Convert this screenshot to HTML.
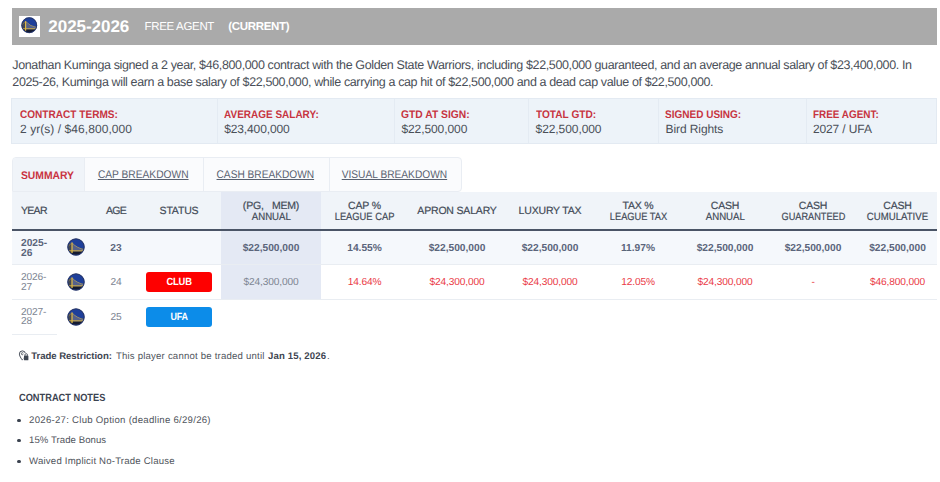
<!DOCTYPE html>
<html lang="en">
<head>
<meta charset="utf-8">
<title>Jonathan Kuminga Contract</title>
<style>
*{box-sizing:border-box;margin:0;padding:0}
html,body{width:940px;height:482px;background:#fff;overflow:hidden}
body{font-family:"Liberation Sans",Arial,sans-serif;color:#4a4f58;position:relative;text-rendering:geometricPrecision}
.hdr{position:absolute;left:12px;top:8px;width:925px;height:36.5px;background:#aaa}
.hdr .logo{position:absolute;left:7px;top:7.7px;width:21.3px;height:21.3px;background:#fff}
.hdr .logo svg{position:absolute;left:2.4px;top:1.4px;width:16.5px;height:16.5px}
.hdr h2{position:absolute;left:36.3px;top:9px;font-size:17px;line-height:20px;font-weight:700;color:#fff;letter-spacing:-0.04px;white-space:nowrap}
.hdr .fa{position:absolute;left:132.5px;top:11.6px;font-size:11.5px;line-height:14px;color:#fff;white-space:nowrap;letter-spacing:-0.33px}
.hdr .cur{position:absolute;left:216.2px;top:11.6px;font-size:11.5px;line-height:14px;color:#fff;font-weight:700;white-space:nowrap;letter-spacing:-0.3px}
.desc{position:absolute;left:12.3px;top:56.7px;width:920px;font-size:12.5px;line-height:17.5px;color:#4a4f58;white-space:nowrap;letter-spacing:-.373px}
.terms{position:absolute;left:11px;top:98px;width:926px;height:46px;background:#edf3f9;border:1px solid #e3eaf2}
.terms .c{position:absolute;top:0;height:44px;border-left:1px solid #e4ebf3}
.terms .c:first-child{border-left:0}
.terms .c:first-child .l,.terms .c:first-child .v{left:8px}
.terms .l{position:absolute;left:6.4px;top:9.5px;font-size:11px;line-height:13px;font-weight:700;color:#c7343f;white-space:nowrap;transform-origin:0 50%}
.terms .v{position:absolute;left:6.4px;top:23.1px;font-size:12px;line-height:15px;color:#4a4f58;white-space:nowrap;letter-spacing:-.1px}
.tabs{position:absolute;left:11.6px;top:157.2px;height:34.7px;width:450.6px;border:1px solid #e9edf3;border-radius:4px 4px 4px 0;background:#fafbfd;overflow:hidden}
.tabs .t{position:absolute;top:0;height:33.7px;font-size:11.1px;line-height:34.6px;color:#596170;white-space:nowrap;text-align:center;border-left:1px solid #e9edf3}
.tabs .t span{display:inline-block;text-decoration:underline;text-decoration-thickness:.9px;text-underline-offset:1.2px}
.tabs .t.on{background:#f0f4f9;color:#c9323f;font-weight:700;border-left:0;left:-1px;top:-1px;height:37px;line-height:39px}
.tabs .t.on span{text-decoration:none}
table{position:absolute;left:12px;top:191.9px;width:925px;border-collapse:collapse;table-layout:fixed}
th{height:38.4px;background:#f0f4f9;font-size:10.5px;letter-spacing:-.18px;line-height:11.3px;font-weight:400;color:#434b58;text-align:center;vertical-align:middle;border-bottom:2px solid #4a5466;-webkit-text-stroke:.2px #434b58;padding-top:3.4px}
th small{font-size:10.5px;display:inline-block;letter-spacing:0}
th.s1{padding-top:2.6px}
th.sh{background:#e4e9f4}
td{height:35px;font-size:10.2px;line-height:9.6px;text-align:center;vertical-align:middle;border-bottom:1px solid #e9edf2;color:#7d8592;padding-top:1px}
tr.r1 td{background:#f5f8fc;font-weight:700;color:#5b657b;height:34.2px;padding-top:2.8px}
tr.r2 td,tr.r3 td{height:34.8px;padding-top:1.6px}
tr.r2 td,tr.r3 td{letter-spacing:-.16px}
tr.r2 td.red{color:#ea3a46}
tr.r1 .tl{top:-1.9px}
tr.r2 .tl{top:-1px}
tr.r3 .tl{top:-.4px}
tr.r3 td{border-bottom:0}
tr.r3 td.y{border-bottom:1px solid #e9edf2}
td.sh{background:#e4e9f4 !important}
td.y,th.y{text-align:left;padding-left:9px}
th.y{letter-spacing:-.7px}
.btn{display:inline-block;width:65.5px;height:20px;line-height:22.8px;border-radius:3px;overflow:hidden;color:#fff;font-weight:700;font-size:10.4px;position:relative;left:0;top:-.8px;vertical-align:middle}
.btn span{display:inline-block;transform:scaleX(.9)}
.club{background:#fe0000}
.ufa{background:#0c8ce9}
.tl{display:inline-block;width:18px;height:18px;vertical-align:middle;position:relative;top:-1.3px}
.restr{position:absolute;left:0;top:349.7px;width:400px;height:13px;font-size:9.6px;line-height:13px;color:#4f545c;white-space:nowrap}
.restr span,.restr b{position:absolute;top:0}
.restr b{color:#3e4551;font-size:9.6px;transform-origin:0 50%}
.restr svg{position:absolute;left:18.3px;top:.7px;width:11px;height:11px}
.nh{position:absolute;left:19px;top:392.1px;font-size:10.4px;line-height:13px;font-weight:700;color:#3b4350;white-space:nowrap;transform:scaleX(.89);transform-origin:0 50%}
ul{position:absolute;left:17.3px;top:0;list-style:none}
li{position:absolute;left:0;font-size:9.6px;line-height:13px;color:#4f545c;white-space:nowrap;padding-left:11.8px}
li:before{content:"";position:absolute;left:0;top:4.6px;width:3.8px;height:3.8px;border-radius:50%;background:#3b4350}
</style>
</head>
<body>
<svg width="0" height="0" style="position:absolute">
  <defs>
    <symbol id="gsw" viewBox="0 0 36 36">
      <circle cx="18" cy="18" r="17.2" fill="#1e3f9a"/>
      <clipPath id="gc"><circle cx="18" cy="18" r="15.600"/></clipPath>
      <g clip-path="url(#gc)">
        <path d="M0 14 L9.500 10 L9.500 36 L0 36Z" fill="#4b4a42" opacity=".8"/>
        <path d="M10.500 10 Q19 20 36 23.500 L36 26 L10.500 26Z" fill="#6c7085" opacity=".7"/>
        <path d="M0 26.500 H36 V36 H0Z" fill="#141a30"/>
        <path d="M10.500 10 Q19 20 36 23.500" fill="none" stroke="#d9b649" stroke-width="1.200"/>
        <path d="M9.500 9.800 L0 19" fill="none" stroke="#bfa24a" stroke-width="1"/>
        <rect x="8.800" y="9" width="2.500" height="21" fill="#e3bb44"/>
        <rect x="0" y="24.800" width="36" height="2" fill="#e0b840"/>
      </g>
      <circle cx="18" cy="18" r="16.400" fill="none" stroke="#2a3458" stroke-width="1.700"/>
    </symbol>
  </defs>
</svg>
<div class="hdr">
  <div class="logo"><svg><use href="#gsw"/></svg></div>
  <h2>2025-2026</h2>
  <span class="fa">FREE AGENT</span>
  <span class="cur">(CURRENT)</span>
</div>
<p class="desc">Jonathan Kuminga signed a 2 year, $46,800,000 contract with the Golden State Warriors, including $22,500,000 guaranteed, and an average annual salary of $23,400,000. In<br>2025-26, Kuminga will earn a base salary of $22,500,000, while carrying a cap hit of $22,500,000 and a dead cap value of $22,500,000.</p>
<div class="terms">
  <div class="c" style="left:0;width:205px"><div class="l" style="transform:scaleX(0.915)">CONTRACT TERMS:</div><div class="v" style="letter-spacing:.06px">2 yr(s) / $46,800,000</div></div>
  <div class="c" style="left:204.8px;width:177px"><div class="l" style="transform:scaleX(0.908)">AVERAGE SALARY:</div><div class="v" style="letter-spacing:-.12px">$23,400,000</div></div>
  <div class="c" style="left:382px;width:134px"><div class="l" style="transform:scaleX(0.936)">GTD AT SIGN:</div><div class="v" style="letter-spacing:-.08px">$22,500,000</div></div>
  <div class="c" style="left:516.2px;width:131px"><div class="l" style="transform:scaleX(0.919)">TOTAL GTD:</div><div class="v" style="letter-spacing:-.08px">$22,500,000</div></div>
  <div class="c" style="left:646.1px;width:148px"><div class="l" style="transform:scaleX(0.910)">SIGNED USING:</div><div class="v" style="letter-spacing:-.08px">Bird Rights</div></div>
  <div class="c" style="left:793.5px;width:130px"><div class="l" style="transform:scaleX(0.901)">FREE AGENT:</div><div class="v" style="letter-spacing:-.11px">2027 / UFA</div></div>
</div>
<div class="tabs">
  <div class="t on" style="width:73.7px;padding-right:1px"><span style="transform:scaleX(.933)">SUMMARY</span></div>
  <div class="t" style="left:71.7px;width:118.4px;padding-right:1.6px"><span style="transform:scaleX(.921)">CAP BREAKDOWN</span></div>
  <div class="t" style="left:190.1px;width:126px;padding-right:2.6px"><span style="transform:scaleX(.915)">CASH BREAKDOWN</span></div>
  <div class="t" style="left:316.1px;width:133px;padding-right:1.6px"><span style="transform:scaleX(.918)">VISUAL BREAKDOWN</span></div>
</div>
<table>
<colgroup><col style="width:45px"><col style="width:38px"><col style="width:42px"><col style="width:84px"><col style="width:100px"><col style="width:87px"><col style="width:98px"><col style="width:88px"><col style="width:88px"><col style="width:86px"><col style="width:90px"><col style="width:79px"></colgroup>
<thead><tr>
<th class="y s1">YEAR</th><th></th><th class="s1" style="letter-spacing:-.66px">AGE</th><th class="s1">STATUS</th><th class="sh">(PG,<span style="display:inline-block;width:8.2px"></span>MEM)<br><small style="transform:scaleX(.918)">ANNUAL</small></th><th>CAP %<br><small style="transform:scaleX(0.89)">LEAGUE CAP</small></th><th class="s1">APRON SALARY</th><th class="s1">LUXURY TAX</th><th>TAX %<br><small style="transform:scaleX(0.883)">LEAGUE TAX</small></th><th>CASH<br><small style="transform:scaleX(.918)">ANNUAL</small></th><th>CASH<br><small style="transform:scaleX(0.875)">GUARANTEED</small></th><th>CASH<br><small style="transform:scaleX(0.916)">CUMULATIVE</small></th>
</tr></thead>
<tbody>
<tr class="r1"><td class="y">2025-<br>26</td><td><svg class="tl"><use href="#gsw"/></svg></td><td>23</td><td></td><td class="sh">$22,500,000</td><td>14.55%</td><td>$22,500,000</td><td>$22,500,000</td><td>11.97%</td><td>$22,500,000</td><td>$22,500,000</td><td>$22,500,000</td></tr>
<tr class="r2"><td class="y">2026-<br>27</td><td><svg class="tl"><use href="#gsw"/></svg></td><td>24</td><td><span class="btn club"><span>CLUB</span></span></td><td class="sh">$24,300,000</td><td class="red">14.64%</td><td class="red">$24,300,000</td><td class="red">$24,300,000</td><td class="red">12.05%</td><td class="red">$24,300,000</td><td class="red">-</td><td class="red">$46,800,000</td></tr>
<tr class="r3"><td class="y">2027-<br>28</td><td><svg class="tl"><use href="#gsw"/></svg></td><td>25</td><td><span class="btn ufa"><span style="transform:scaleX(.86)">UFA</span></span></td><td></td><td></td><td></td><td></td><td></td><td></td><td></td><td></td></tr>
</tbody>
</table>
<div class="restr"><svg viewBox="0 0 11 11"><path d="M4.400 10.100C4.400 10.100 1.400 6.500 1.400 3.900A3 3 0 0 1 7.400 3.900C7.400 6.500 4.400 10.100 4.400 10.100Z" fill="none" stroke="#3e4551" stroke-width=".95"/><circle cx="4.400" cy="3.700" r="1.050" fill="none" stroke="#3e4551" stroke-width=".8"/><rect x="5.400" y="3" width="5.500" height="8" fill="#fff"/><rect x="6" y="5.600" width="4.400" height="4.650" rx=".5" fill="#3e4551"/><path d="M6.950 5.700V4.900a1.250 1.250 0 0 1 2.500 0V5.700" fill="none" stroke="#3e4551" stroke-width=".85"/></svg><b style="left:31.2px;letter-spacing:-.05px">Trade Restriction:</b><span style="left:115.9px;letter-spacing:.2px">This player cannot be traded until</span><b style="left:268px;letter-spacing:.14px">Jan 15, 2026</b><span style="left:327px">.</span></div>
<div class="nh">CONTRACT NOTES</div>
<ul>
<li style="top:414px;letter-spacing:.27px">2026-27: Club Option (deadline 6/29/26)</li>
<li style="top:434.1px;letter-spacing:.055px">15% Trade Bonus</li>
<li style="top:455.1px;letter-spacing:.2px">Waived Implicit No-Trade Clause</li>
</ul>
</body>
</html>
